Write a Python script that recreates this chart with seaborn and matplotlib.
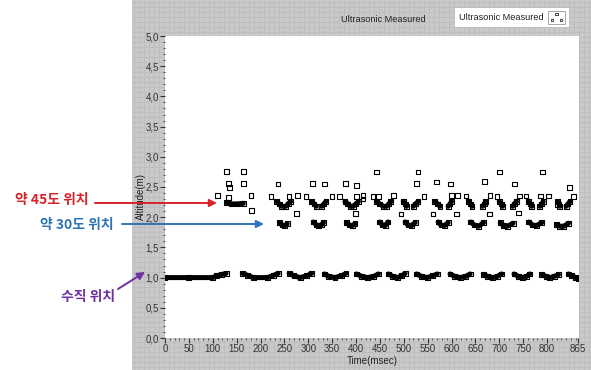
import matplotlib
matplotlib.use("Agg")
import matplotlib.pyplot as plt
import pandas as pd
import seaborn as sns
from matplotlib.ticker import MultipleLocator
from matplotlib.patches import Rectangle

sns.set_style("white")
plt.rcParams["font.family"] = ["Liberation Sans Narrow", "Liberation Sans", "DejaVu Sans"]

# ---- data (time in msec, altitude in m) ----
# dense runs of samples, each run is one blob on the chart
vertical_blobs = [
    [(0, 1.00), (50, 1.00), (100, 1.00), (108, 1.03), (118, 1.05), (128, 1.07)],
    [(163, 1.07), (172, 1.04), (185, 1.00), (215, 1.00), (228, 1.04), (237, 1.07)],
    [(260, 1.07), (270, 1.03), (283, 1.00), (297, 1.03), (307, 1.07)],
    [(334, 1.06), (343, 1.02), (356, 1.00), (370, 1.03), (379, 1.07)],
    [(401, 1.06), (412, 1.02), (424, 1.00), (437, 1.02), (447, 1.06)],
    [(468, 1.06), (477, 1.02), (487, 1.00), (496, 1.03), (503, 1.07)],
    [(527, 1.06), (537, 1.02), (549, 1.00), (561, 1.03), (570, 1.06)],
    [(597, 1.06), (607, 1.02), (618, 1.00), (630, 1.02), (639, 1.06)],
    [(667, 1.05), (676, 1.02), (686, 1.00), (696, 1.02), (705, 1.06)],
    [(731, 1.06), (740, 1.02), (748, 1.00), (757, 1.02), (764, 1.06)],
    [(789, 1.05), (798, 1.02), (806, 1.00), (815, 1.02), (824, 1.05)],
    [(845, 1.06), (852, 1.03), (860, 1.00), (865, 0.99)],
]

blobs_30 = [
    [(240, 1.91), (245, 1.87), (251, 1.86), (256, 1.89)],
    [(311, 1.92), (317, 1.87), (322, 1.86), (327, 1.87), (332, 1.91)],
    [(380, 1.91), (386, 1.87), (392, 1.86), (398, 1.89)],
    [(450, 1.92), (455, 1.87), (461, 1.86), (467, 1.92)],
    [(503, 1.92), (509, 1.87), (516, 1.86), (524, 1.91)],
    [(572, 1.92), (578, 1.87), (585, 1.86), (593, 1.91)],
    [(640, 1.92), (648, 1.87), (657, 1.85), (667, 1.91)],
    [(702, 1.91), (709, 1.86), (717, 1.85), (729, 1.90)],
    [(762, 1.92), (770, 1.87), (778, 1.86), (789, 1.91)],
    [(820, 1.88), (827, 1.85), (835, 1.85), (845, 1.90)],
]

blobs_45 = [
    [(129, 2.24), (140, 2.22), (152, 2.22), (164, 2.23)],
    [(234, 2.26), (239, 2.22), (244, 2.18)],
    [(253, 2.18), (258, 2.22), (263, 2.26)],
    [(307, 2.26), (312, 2.22), (317, 2.18)],
    [(328, 2.18), (333, 2.22), (337, 2.26)],
    [(377, 2.26), (383, 2.22), (388, 2.18)],
    [(394, 2.18), (400, 2.22), (405, 2.26)],
    [(443, 2.26), (450, 2.22), (457, 2.18)],
    [(464, 2.18), (469, 2.22), (473, 2.26)],
    [(499, 2.26), (503, 2.22), (506, 2.18)],
    [(520, 2.18), (525, 2.22), (530, 2.26)],
    [(565, 2.26), (571, 2.22), (576, 2.18)],
    [(593, 2.18), (597, 2.22), (600, 2.26)],
    [(636, 2.26), (640, 2.22), (643, 2.18)],
    [(665, 2.18), (669, 2.22), (672, 2.26)],
    [(700, 2.26), (704, 2.22), (707, 2.18)],
    [(728, 2.18), (732, 2.22), (736, 2.26)],
    [(761, 2.26), (765, 2.22), (768, 2.18)],
    [(785, 2.18), (789, 2.22), (792, 2.26)],
    [(822, 2.26), (825, 2.22), (827, 2.18)],
    [(840, 2.18), (844, 2.22), (848, 2.26)],
]

# scattered single readings
single_t = [110, 129, 164, 133, 164, 135, 133, 180, 181,
            222, 237, 260, 278, 276, 295, 309, 334, 350,
            366, 378, 399, 401, 401, 415, 415, 436, 443, 447, 479, 494,
            527, 530, 542, 561, 569, 598, 600, 612, 611, 630,
            669, 679, 681, 695, 700, 732, 740, 742, 756, 787, 791, 803,
            822, 847, 855]
single_alt = [2.36, 2.76, 2.76, 2.56, 2.56, 2.49, 2.33, 2.36, 2.11,
              2.34, 2.55, 2.34, 2.36, 2.06, 2.34, 2.56, 2.55, 2.34,
              2.34, 2.56, 2.06, 2.52, 2.34, 2.36, 2.30, 2.34, 2.75, 2.34, 2.36, 2.05,
              2.56, 2.75, 2.34, 2.05, 2.58, 2.55, 2.36, 2.36, 2.05, 2.35,
              2.59, 2.05, 2.36, 2.34, 2.75, 2.55, 2.07, 2.35, 2.35, 2.35, 2.75, 2.35,
              2.20, 2.49, 2.34]

x_ticks = [0, 50, 100, 150, 200, 250, 300, 350, 400, 450, 500, 550,
           600, 650, 700, 750, 800, 865]
y_ticks = [0.0, 0.5, 1.0, 1.5, 2.0, 2.5, 3.0, 3.5, 4.0, 4.5, 5.0]
y_tick_labels = ["0,0", "0,5", "1,0", "1,5", "2,0", "2,5", "3,0", "3,5",
                 "4,0", "4,5", "5,0"]

rows = []
for group in (vertical_blobs, blobs_30, blobs_45):
    for pts in group:
        blob_id = len(set(r[0] for r in rows))
        for t, a in pts:
            rows.append((blob_id, t, a))
blobs_df = pd.DataFrame(rows, columns=["blob", "t", "alt"])
singles_df = pd.DataFrame({"t": single_t, "alt": single_alt})

W, H = 591, 370
fig = plt.figure(figsize=(W / 100, H / 100), dpi=100)
fig.patch.set_facecolor("white")

# grey LabVIEW style panel
bg = fig.add_axes([132 / W, 0, (W - 132) / W, 1])
bg.set_facecolor("#c9c9c9")
bg.set_xlim(132, W)
bg.set_ylim(H, 0)
bg.set_xticks(range(134, W, 5))
bg.set_yticks(range(2, H, 5))
bg.grid(True, color="#bdbdbd", lw=0.6)
bg.tick_params(length=0, labelbottom=False, labelleft=False)
for s in bg.spines.values():
    s.set_visible(False)

# plot area
ax = fig.add_axes([165 / W, (H - 338) / H, 414 / W, 302 / H])
ax.set_zorder(2)
ax.set_facecolor("white")

sns.lineplot(data=blobs_df, x="t", y="alt", units="blob", estimator=None,
             color="black", lw=3.6, sort=True, legend=False, ax=ax)
sns.scatterplot(data=blobs_df, x="t", y="alt", marker="s", s=12,
                facecolor="none", edgecolor="black", linewidth=0.8,
                legend=False, ax=ax)
sns.scatterplot(data=singles_df, x="t", y="alt", marker="s", s=11,
                facecolor="none", edgecolor="black", linewidth=0.8,
                legend=False, ax=ax)

ax.set_xlim(0, 867)
ax.set_ylim(0, 5.0)
ax.set_xticks(x_ticks)
ax.set_xticklabels([str(v) for v in x_ticks])
ax.set_yticks(y_ticks)
ax.set_yticklabels(y_tick_labels)
ax.xaxis.set_minor_locator(MultipleLocator(10))
ax.yaxis.set_minor_locator(MultipleLocator(0.1))
ax.tick_params(which="major", direction="out", length=3.5, width=0.8,
               colors="#333333", labelsize=7, pad=1)
ax.tick_params(which="minor", direction="out", length=1.5, width=0.8,
               colors="#555555")
ax.tick_params(axis="both", which="both", bottom=True, left=True)
for s in ax.spines.values():
    s.set_visible(False)
ax.set_xlabel("Time(msec)", fontsize=7, color="#222222", labelpad=1)
ax.set_ylabel("Altitude(m)", fontsize=7, color="#222222")
ax.yaxis.set_label_coords(-0.045, 0.47)

fig.text(383 / W, 1 - 19 / H, "Ultrasonic Measured", fontsize=6.6,
         color="#222222", ha="center", va="center")

# overlay in pixel units for legend box and the korean call-outs
ov = fig.add_axes([0, 0, 1, 1])
ov.set_zorder(3)
ov.patch.set_alpha(0)
ov.set_xlim(0, W)
ov.set_ylim(H, 0)
ov.axis("off")

ov.add_patch(Rectangle((455, 8), 114, 19, facecolor="white", edgecolor="none"))
ov.text(459, 17.5, "Ultrasonic Measured", fontsize=6.6, color="#222222",
        va="center", ha="left")
ov.add_patch(Rectangle((548, 11), 17, 13, facecolor="white",
                       edgecolor="#999999", lw=0.6))
ov.scatter([552, 556.5, 561], [20, 14, 20], marker="s", s=3,
           facecolor="none", edgecolor="black", linewidth=0.5)

kfont = ["Noto Sans CJK KR", "DejaVu Sans"]
notes = [
    ("약 45도 위치", (52, 200), (95, 203), (217, 203), "#d8232a"),
    ("약 30도 위치", (77, 225), (122, 224), (264, 224), "#2e75b6"),
    ("수직 위치", (88, 297), (118, 289), (145, 272), "#7030a0"),
]
for label, tpos, a0, a1, col in notes:
    ov.text(tpos[0], tpos[1], label, family=kfont, fontsize=10,
            fontweight="bold", color=col, ha="center", va="center")
    ov.annotate("", xy=a1, xytext=a0,
                arrowprops=dict(arrowstyle="-|>", color=col, lw=1.4,
                                mutation_scale=11, shrinkA=0, shrinkB=0))

fig.savefig("out.png", dpi=100)
